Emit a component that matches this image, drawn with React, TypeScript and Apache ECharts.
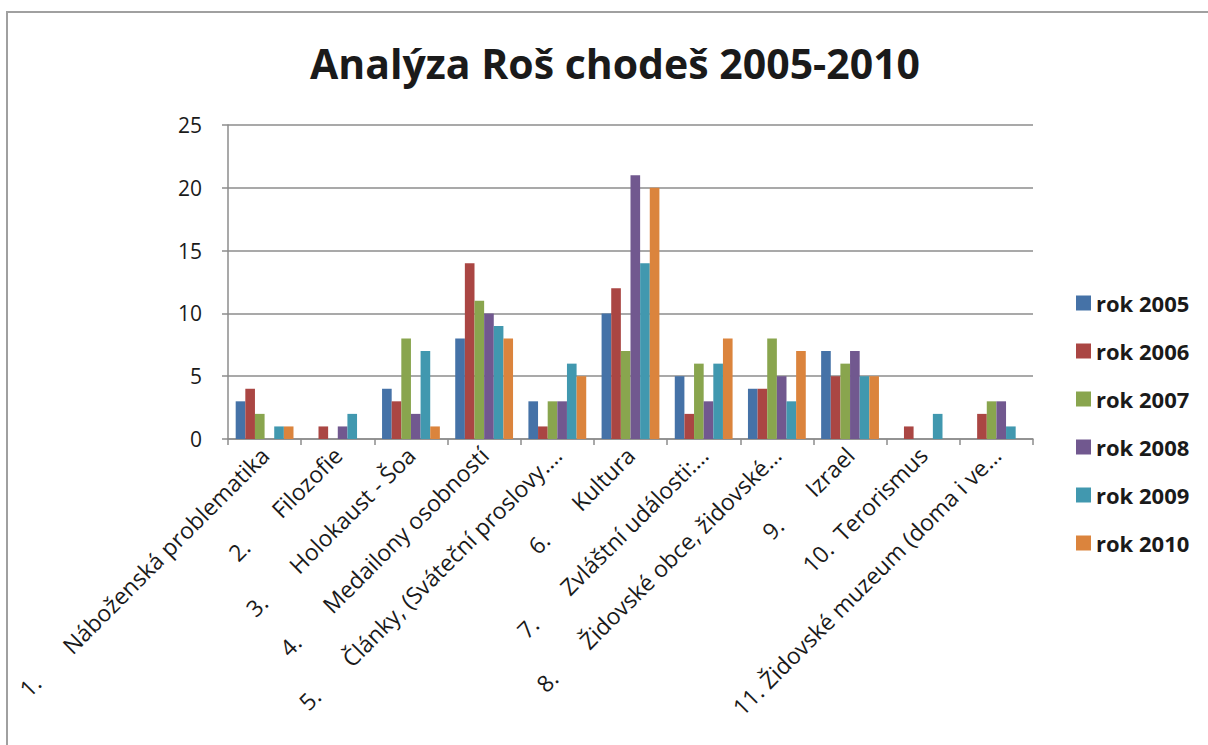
import React, { useEffect, useRef } from "react";
import * as echarts from "echarts";

const categories = [
  "1.\u00a0\u00a0\u00a0\u00a0\u00a0\u00a0\u00a0Náboženská problematika",
  "2.\u00a0\u00a0\u00a0\u00a0\u00a0\u00a0\u00a0Filozofie",
  "3.\u00a0\u00a0\u00a0\u00a0\u00a0\u00a0\u00a0Holokaust - Šoa",
  "4.\u00a0\u00a0\u00a0\u00a0\u00a0\u00a0\u00a0Medailony osobností",
  "5.\u00a0\u00a0\u00a0\u00a0\u00a0\u00a0\u00a0Články, (Sváteční proslovy.…",
  "6.\u00a0\u00a0\u00a0\u00a0\u00a0\u00a0\u00a0Kultura",
  "7.\u00a0\u00a0\u00a0\u00a0\u00a0\u00a0\u00a0Zvláštní události:…",
  "8.\u00a0\u00a0\u00a0\u00a0\u00a0\u00a0\u00a0Židovské obce, židovské…",
  "9.\u00a0\u00a0\u00a0\u00a0\u00a0\u00a0\u00a0Izrael",
  "10.\u00a0\u00a0Terorismus",
  "11.\u00a0Židovské muzeum (doma i ve…",
];

const seriesNames = ["rok 2005", "rok 2006", "rok 2007", "rok 2008", "rok 2009", "rok 2010"];

const rok2005 = [3, 0, 4, 8, 3, 10, 5, 4, 7, 0, 0];
const rok2006 = [4, 1, 3, 14, 1, 12, 2, 4, 5, 1, 2];
const rok2007 = [2, 0, 8, 11, 3, 7, 6, 8, 6, 0, 3];
const rok2008 = [0, 1, 2, 10, 3, 21, 3, 5, 7, 0, 3];
const rok2009 = [1, 2, 7, 9, 6, 14, 6, 3, 5, 2, 1];
const rok2010 = [1, 0, 1, 8, 5, 20, 8, 7, 5, 0, 0];

const seriesValues = [rok2005, rok2006, rok2007, rok2008, rok2009, rok2010];
const colors = ["#4572A7", "#AA4643", "#89A54E", "#71588F", "#4198AF", "#DB843D"];

const FONT = "'Open Sans', 'Noto Sans', sans-serif";

export default function App() {
  const ref = useRef<HTMLDivElement>(null);
  useEffect(() => {
    if (!ref.current) return;
    const chart = echarts.init(ref.current, undefined, { renderer: "svg" });
    chart.setOption({
      animation: false,
      backgroundColor: "#ffffff",
      color: colors,
      title: {
        text: "Analýza Roš chodeš 2005-2010",
        left: 610,
        textAlign: "center",
        top: 37,
        textStyle: { fontFamily: FONT, fontSize: 41, fontWeight: "bold", color: "#1a1a1a" },
      },
      legend: {
        orient: "vertical",
        left: 1076,
        top: 292,
        padding: 0,
        itemWidth: 15,
        itemHeight: 15,
        itemGap: 26,
        icon: "rect",
        data: seriesNames,
        textStyle: { fontFamily: FONT, fontSize: 22, fontWeight: "bold", color: "#1a1a1a" },
      },
      grid: { left: 228, right: 175, top: 125, bottom: 306, containLabel: false },
      xAxis: {
        type: "category",
        data: categories,
        axisLine: { lineStyle: { color: "#8c8c8c", width: 1.5 } },
        axisTick: { show: true, length: 6, lineStyle: { color: "#8c8c8c", width: 1.5 } },
        axisLabel: {
          rotate: 45,
          interval: 0,
          margin: 12,
          fontFamily: FONT,
          fontSize: 23,
          color: "#1a1a1a",
        },
      },
      yAxis: {
        type: "value",
        min: 0,
        max: 25,
        interval: 5,
        axisLine: { show: true, lineStyle: { color: "#8c8c8c", width: 1.5 } },
        axisTick: { show: true, length: 6, lineStyle: { color: "#8c8c8c", width: 1.5 } },
        splitLine: { lineStyle: { color: "#8c8c8c", width: 1.5 } },
        axisLabel: { margin: 26, fontFamily: FONT, fontSize: 21, color: "#1a1a1a" },
      },
      series: seriesNames.map((name, i) => ({
        name,
        type: "bar",
        data: seriesValues[i],
        barGap: "0%",
        barCategoryGap: "21%",
        itemStyle: { color: colors[i] },
      })),
      graphic: [
        {
          type: "rect",
          shape: { x: 7, y: 12, width: 1300, height: 1000 },
          style: { fill: "none", stroke: "#a0a0a0", lineWidth: 2 },
          silent: true,
        },
      ],
    });
    return () => chart.dispose();
  }, []);
  return (
    <div
      ref={ref}
      style={{ position: "fixed", left: 0, top: 0, width: 1208, height: 745 }}
    />
  );
}
